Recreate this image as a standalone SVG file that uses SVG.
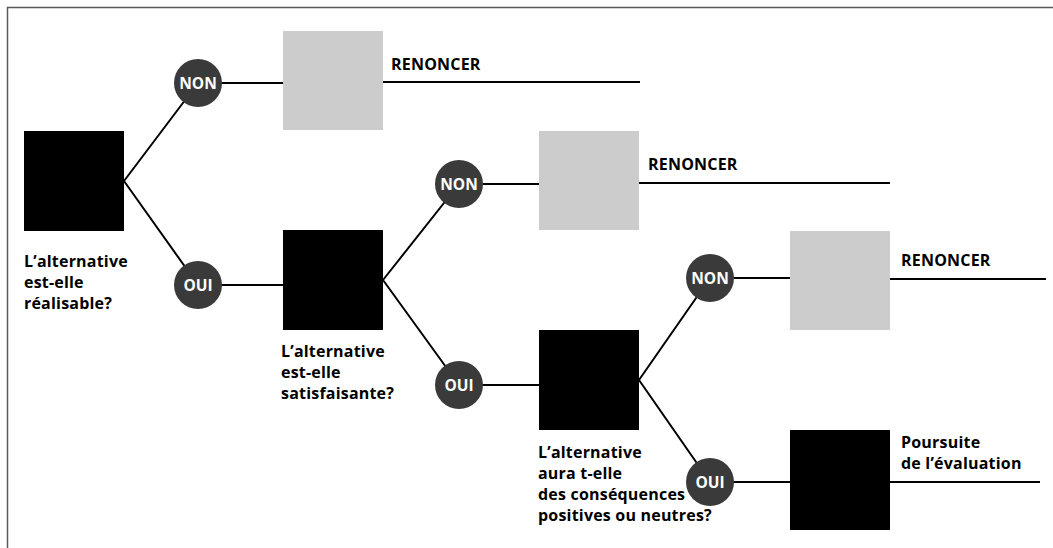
<svg xmlns="http://www.w3.org/2000/svg" width="1053" height="548" viewBox="0 0 1053 548">
  <style>
    .frame { fill: none; stroke: #5a5a5a; stroke-width: 1.5; }
    .wire { fill: none; stroke: #000; stroke-width: 2; }
    .step { fill: #000; }
    .stop { fill: #cccccc; }
    .choice { fill: #3a3a3a; }
    .choice-label { font-family: "Open Sans", "Noto Sans", sans-serif; font-weight: 700; font-size: 15.5px; fill: #fff; text-anchor: middle; }
    .label { font-family: "Open Sans", "Noto Sans", sans-serif; font-weight: 700; font-size: 16px; letter-spacing: 0.2px; fill: #000; }
  </style>

  <rect width="1053" height="548" fill="#fff"/>
  <!-- open frame: top and left edges only -->
  <path class="frame" d="M7.5,548 V7.5 H1053"/>

  <!-- connectors -->
  <g id="connectors">
    <path class="wire" d="M124,181 L198,83 M124,181 L198,285"/>
    <path class="wire" d="M198,83 H283 M383,82 H640"/>
    <path class="wire" d="M198,285 H283"/>
    <path class="wire" d="M383,280 L459,184 M383,280 L459,385"/>
    <path class="wire" d="M459,184 H539 M639,183 H890"/>
    <path class="wire" d="M459,385 H539"/>
    <path class="wire" d="M639,380 L710,278 M639,380 L710,482"/>
    <path class="wire" d="M710,278 H790 M890,279 H1046"/>
    <path class="wire" d="M710,482 H790 M890,482 H1040"/>
  </g>

  <!-- decision 1 -->
  <g id="q1">
    <rect class="step" x="24" y="131" width="100" height="100"/>
    <text class="label"><tspan x="24" y="266.5">L’alternative</tspan><tspan x="24" y="287.5">est-elle</tspan><tspan x="24" y="308.5">réalisable?</tspan></text>
  </g>
  <g id="non1">
    <circle class="choice" cx="198" cy="83" r="24"/>
    <text class="choice-label" x="198" y="88.5">NON</text>
  </g>
  <g id="oui1">
    <circle class="choice" cx="198" cy="285" r="24"/>
    <text class="choice-label" x="198" y="290.5">OUI</text>
  </g>
  <g id="stop1">
    <rect class="stop" x="283" y="31" width="100" height="99"/>
    <text class="label" x="391" y="70">RENONCER</text>
  </g>

  <!-- decision 2 -->
  <g id="q2">
    <rect class="step" x="283" y="230" width="100" height="100"/>
    <text class="label"><tspan x="281" y="357">L’alternative</tspan><tspan x="281" y="378">est-elle</tspan><tspan x="281" y="399">satisfaisante?</tspan></text>
  </g>
  <g id="non2">
    <circle class="choice" cx="459" cy="184" r="24"/>
    <text class="choice-label" x="459" y="189.5">NON</text>
  </g>
  <g id="oui2">
    <circle class="choice" cx="459" cy="385" r="24"/>
    <text class="choice-label" x="459" y="390.5">OUI</text>
  </g>
  <g id="stop2">
    <rect class="stop" x="539" y="131" width="100" height="99"/>
    <text class="label" x="648" y="170">RENONCER</text>
  </g>

  <!-- decision 3 -->
  <g id="q3">
    <rect class="step" x="539" y="330" width="100" height="100"/>
    <text class="label"><tspan x="538" y="457.5">L’alternative</tspan><tspan x="538" y="478.5">aura t-elle</tspan><tspan x="538" y="499.5">des conséquences</tspan><tspan x="538" y="520.5">positives ou neutres?</tspan></text>
  </g>
  <g id="non3">
    <circle class="choice" cx="710" cy="278" r="24"/>
    <text class="choice-label" x="710" y="283.5">NON</text>
  </g>
  <g id="oui3">
    <circle class="choice" cx="710" cy="482" r="24"/>
    <text class="choice-label" x="710" y="487.5">OUI</text>
  </g>
  <g id="stop3">
    <rect class="stop" x="790" y="231" width="100" height="99"/>
    <text class="label" x="901" y="266">RENONCER</text>
  </g>

  <!-- outcome -->
  <g id="continue">
    <rect class="step" x="790" y="430" width="100" height="100"/>
    <text class="label"><tspan x="901" y="448">Poursuite</tspan><tspan x="901" y="469">de l’évaluation</tspan></text>
  </g>
</svg>
